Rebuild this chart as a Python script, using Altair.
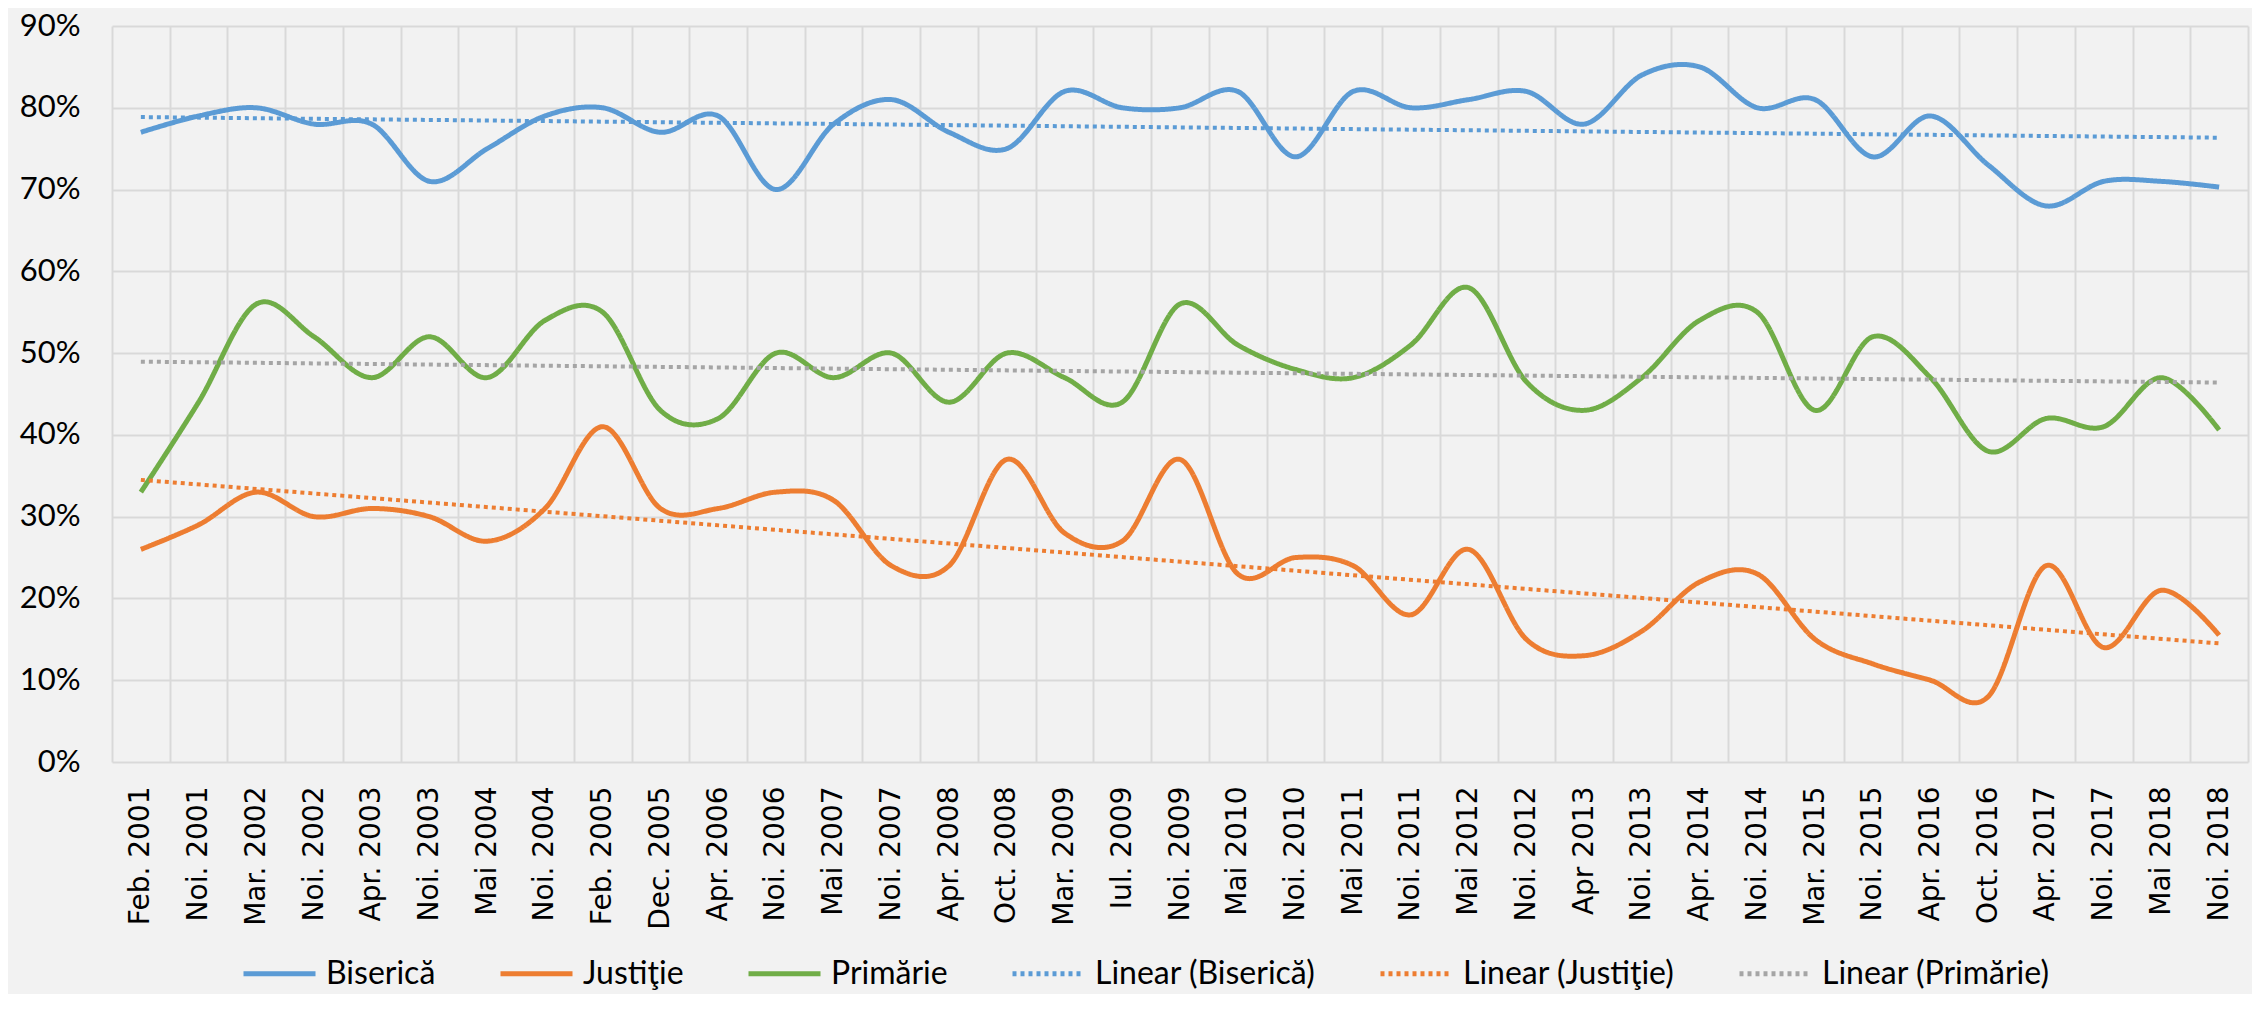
import json
import altair as alt
import pandas as pd

labels = ["Feb. 2001", "Noi. 2001", "Mar. 2002", "Noi. 2002", "Apr. 2003", "Noi. 2003",
          "Mai 2004", "Noi. 2004", "Feb. 2005", "Dec. 2005", "Apr. 2006", "Noi. 2006",
          "Mai 2007", "Noi. 2007", "Apr. 2008", "Oct. 2008", "Mar. 2009", "Iul. 2009",
          "Noi. 2009", "Mai 2010", "Noi. 2010", "Mai 2011", "Noi. 2011", "Mai 2012",
          "Noi. 2012", "Apr 2013", "Noi. 2013", "Apr. 2014", "Noi. 2014", "Mar. 2015",
          "Noi. 2015", "Apr. 2016", "Oct. 2016", "Apr. 2017", "Noi. 2017", "Mai 2018",
          "Noi. 2018"]

biserica = [77, 79, 80, 78, 78, 71, 75, 79, 80, 77, 79, 70, 78, 81, 77, 75, 82, 80, 80,
            82, 74, 82, 80, 81, 82, 78, 84, 85, 80, 81, 74, 79, 73, 68, 71, 71, 70.3]
justitie = [26, 29, 33, 30, 31, 30, 27, 31, 41, 31, 31, 33, 32, 24, 24, 37, 28, 27, 37,
            23, 25, 24, 18, 26, 15, 13, 16, 22, 23, 15, 12, 10, 8, 24, 14, 21, 15.5]
primarie = [33, 44, 56, 52, 47, 52, 47, 54, 55, 43, 42, 50, 47, 50, 44, 50, 47, 44, 56,
            51, 48, 47, 51, 58, 46.5, 43, 47, 54, 55, 43, 52, 47, 38, 42, 41, 47, 40.6]

names = ["Biserică", "Justiţie", "Primărie"]
trend_names = ["Linear (" + n + ")" for n in names]
colors = ["#5B9BD5", "#ED7D31", "#70AD47"]
trend_colors = ["#5B9BD5", "#ED7D31", "#A5A5A5"]

rows = []
for name, vals in zip(names, [biserica, justitie, primarie]):
    for i, v in enumerate(vals):
        rows.append({"idx": i, "label": labels[i], "series": name, "value": v})
df = pd.DataFrame(rows)

domain = names + trend_names
color_scale = alt.Scale(domain=domain, range=colors + trend_colors)
dash_scale = alt.Scale(domain=domain, range=[[1, 0]] * 3 + [[4, 4]] * 3)

n = len(labels)
xscale = alt.Scale(domain=[-0.5, n - 0.5], nice=False, zero=False)
yscale = alt.Scale(domain=[0, 90], nice=False)

label_expr = json.dumps(labels) + "[datum.value]"
grid_vals = [i - 0.5 for i in range(n + 1)]

x_grid_axis = alt.Axis(values=grid_vals, grid=True, labels=False, ticks=False,
                       domain=False, title=None, orient="bottom",
                       gridColor="#D9D9D9", gridWidth=2)
x_label_axis = alt.Axis(values=list(range(n)), grid=False, ticks=False, tickSize=0,
                        domain=False, title=None, orient="bottom",
                        labelExpr=label_expr, labelAngle=-90, labelAlign="right",
                        labelBaseline="middle", labelFont="DejaVu Sans",
                        labelFontSize=28, labelColor="#000000", labelPadding=24,
                        labelOverlap=False, labelFlush=False, labelBound=False)
y_axis = alt.Axis(values=list(range(0, 91, 10)), grid=True, gridColor="#D9D9D9",
                  gridWidth=2, ticks=False, tickSize=0, domain=False, title=None,
                  labelExpr="datum.value + '%'", labelFont="Lato", labelFontSize=31,
                  labelColor="#000000", labelPadding=32, labelFlush=False)

legend = alt.Legend(title=None, orient="none", legendX=129, legendY=909,
                    direction="horizontal", columns=6, symbolType="stroke",
                    symbolSize=5184, symbolStrokeWidth=5, labelFont="Lato",
                    labelFontSize=32, labelColor="#000000", labelOffset=8,
                    columnPadding=54, labelLimit=0)

lines = alt.Chart(df).mark_line(strokeWidth=5, interpolate="cardinal").encode(
    x=alt.X("idx:Q", scale=xscale, axis=x_label_axis),
    y=alt.Y("value:Q", scale=yscale, axis=y_axis),
    color=alt.Color("series:N", scale=color_scale, legend=legend),
    strokeDash=alt.StrokeDash("series:N", scale=dash_scale, legend=legend),
    detail="series:N",
)

trends = alt.Chart(df).transform_regression(
    "idx", "value", groupby=["series"], extent=[0, n - 1]
).transform_calculate(
    tseries="'Linear (' + datum.series + ')'"
).mark_line(strokeWidth=4).encode(
    x=alt.X("idx:Q", scale=xscale, axis=x_grid_axis),
    y=alt.Y("value:Q", scale=yscale, axis=y_axis),
    color=alt.Color("tseries:N", scale=color_scale, legend=legend),
    strokeDash=alt.StrokeDash("tseries:N", scale=dash_scale, legend=legend),
    detail="tseries:N",
)

chart = alt.layer(lines, trends).resolve_axis(x="independent").properties(
    width=2136, height=736,
    padding={"left": 104, "top": 18, "right": 4, "bottom": 232},
    autosize=alt.AutoSizeParams(type="none"),
).configure(background="#F2F2F2").configure_view(stroke=None)

chart.save("out.html", embed_options={"renderer": "svg", "actions": False})
